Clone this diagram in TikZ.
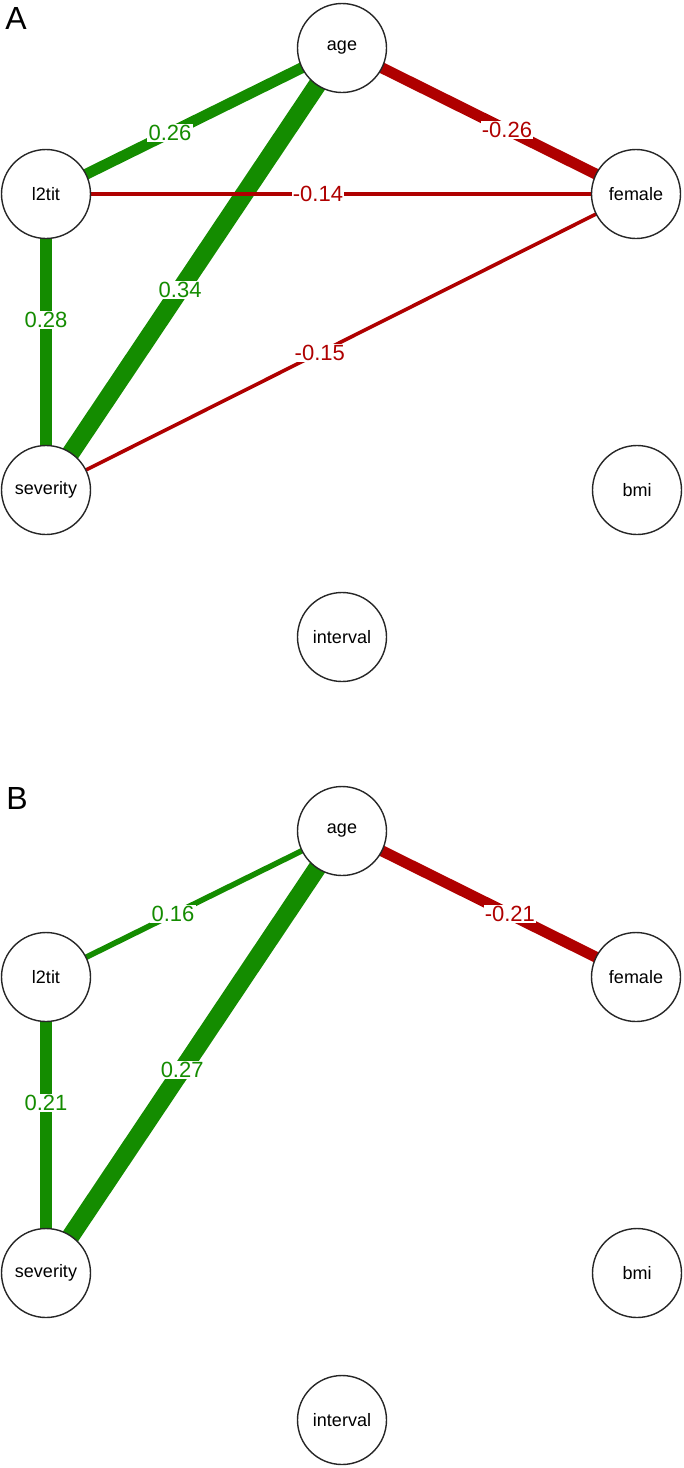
\documentclass[tikz,border=0pt]{standalone}
\usepackage{fontspec}
\setmainfont{Liberation Sans}
\usetikzlibrary{calc}
\pgfdeclarelayer{background}
\pgfsetlayers{background,main}
\definecolor{egreen}{RGB}{20,140,0}
\definecolor{ered}{RGB}{175,0,0}
\begin{document}
\begin{tikzpicture}[x=0.5pt,y=-0.5pt,
  vnode/.style={circle, draw=black!85, line width=0.7pt, fill=white, minimum size=44.5pt, inner sep=0pt, font=\fontsize{9}{10}\selectfont},
  pe/.style={draw=egreen},
  ne/.style={draw=ered},
  elab/.style={fill=white, inner sep=0.6pt, font=\fontsize{11}{12}\selectfont},
  plab/.style={font=\fontsize{16}{18}\selectfont, inner sep=0pt}]
\useasboundingbox (0,0) rectangle (684,1468);

% ---------- Panel A ----------
\node[plab] (labA) at (16,18) {A};
\node[vnode] (aage) at (342,48) {age};
\node[vnode] (al2) at (46,194) {l2tit};
\node[vnode] (afem) at (636,194) {female};
\node[vnode] (asev) at (46,490) {severity};
\node[vnode] (abmi) at (637,490) {bmi};
\node[vnode] (aint) at (342,637) {interval};
\begin{pgfonlayer}{background}
\draw[pe, line width=5.5pt] (al2.center) -- node[elab, text=egreen, pos=0.419] {0.26} (aage.center);
\draw[ne, line width=5.5pt] (aage.center) -- node[elab, text=ered, pos=0.561] {-0.26} (afem.center);
\draw[pe, line width=9pt] (aage.center) -- node[elab, text=egreen, pos=0.547] {0.34} (asev.center);
\draw[ne, line width=1.6pt] (al2.center) -- node[elab, text=ered, pos=0.461] {-0.14} (afem.center);
\draw[pe, line width=6.3pt] (al2.center) -- node[elab, text=egreen, pos=0.426] {0.28} (asev.center);
\draw[ne, line width=1.8pt] (asev.center) -- node[elab, text=ered, pos=0.464] {-0.15} (afem.center);
\end{pgfonlayer}

% ---------- Panel B ----------
\begin{scope}[shift={(0,783)}]
\node[plab] (labB) at (17,15) {B};
\node[vnode] (bage) at (342,48) {age};
\node[vnode] (bl2) at (46,194) {l2tit};
\node[vnode] (bfem) at (636,194) {female};
\node[vnode] (bsev) at (46,490) {severity};
\node[vnode] (bbmi) at (637,490) {bmi};
\node[vnode] (bint) at (342,637) {interval};
\begin{pgfonlayer}{background}
\draw[pe, line width=2.8pt] (bl2.center) -- node[elab, text=egreen, pos=0.429] {0.16} (bage.center);
\draw[ne, line width=5.5pt] (bage.center) -- node[elab, text=ered, pos=0.571] {-0.21} (bfem.center);
\draw[pe, line width=9pt] (bage.center) -- node[elab, text=egreen, pos=0.54] {0.27} (bsev.center);
\draw[pe, line width=6pt] (bl2.center) -- node[elab, text=egreen, pos=0.426] {0.21} (bsev.center);
\end{pgfonlayer}
\end{scope}
\end{tikzpicture}
\end{document}
